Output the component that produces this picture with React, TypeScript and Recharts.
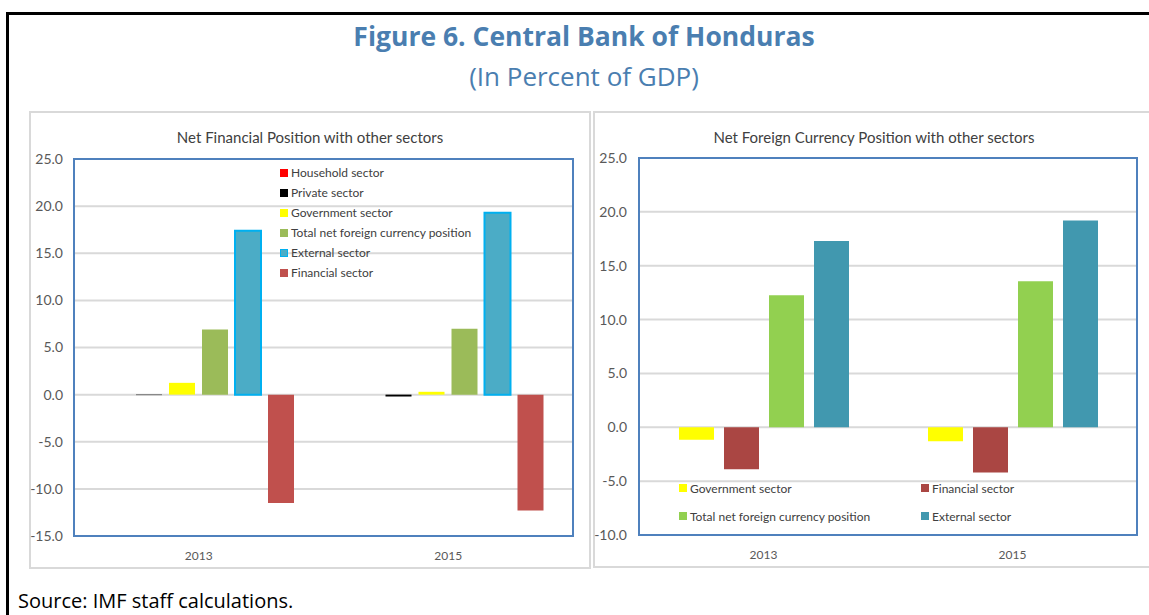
import { BarChart, Bar, XAxis, YAxis, CartesianGrid, ReferenceArea, Legend } from "recharts";

const years = ["2013", "2015"];

// Net financial position with other sectors (left panel)
const household = [0, 0];
const privateSector = [-0.05, -0.2];
const government = [1.25, 0.3];
const totalNetFx = [6.9, 7.0];
const external = [17.4, 19.3];
const financial = [-11.5, -12.3];

// Net foreign currency position with other sectors (right panel)
const fxGovernment = [-1.15, -1.3];
const fxFinancial = [-3.9, -4.2];
const fxTotalNet = [12.25, 13.55];
const fxExternal = [17.3, 19.2];

const leftTicks = [-15, -10, -5, 0, 5, 10, 15, 20, 25];
const rightTicks = [-10, -5, 0, 5, 10, 15, 20, 25];

const leftSeries = [
  { key: "household", name: "Household sector", fill: "#ff0000", stroke: "none" },
  { key: "private", name: "Private sector", fill: "#000000", stroke: "none" },
  { key: "government", name: "Government sector", fill: "#ffff00", stroke: "none" },
  { key: "total", name: "Total net foreign currency position", fill: "#9bbb59", stroke: "none" },
  { key: "external", name: "External sector", fill: "#4bacc6", stroke: "#00b0f0" },
  { key: "financial", name: "Financial sector", fill: "#c0504d", stroke: "none" },
];

const rightSeries = [
  { key: "government", name: "Government sector", fill: "#ffff00" },
  { key: "financial", name: "Financial sector", fill: "#aa4643" },
  { key: "total", name: "Total net foreign currency position", fill: "#92d050" },
  { key: "external", name: "External sector", fill: "#4198af" },
];

const leftData = years.map((year, i) => ({
  year,
  household: household[i],
  private: privateSector[i],
  government: government[i],
  total: totalNetFx[i],
  external: external[i],
  financial: financial[i],
}));

const rightData = years.map((year, i) => ({
  year,
  government: fxGovernment[i],
  financial: fxFinancial[i],
  total: fxTotalNet[i],
  external: fxExternal[i],
}));

const FONT = "Lato, 'Open Sans', sans-serif";
const TEXT = "#595959";
const tickStyle = { fontSize: 14, fill: TEXT, fontFamily: FONT };

function LeftLegend() {
  return (
    <div style={{ fontFamily: FONT, fontSize: 12, color: "#404040", lineHeight: "20px" }}>
      {leftSeries.map((s) => (
        <div key={s.key} style={{ display: "flex", alignItems: "center", whiteSpace: "nowrap" }}>
          <span
            style={{
              display: "inline-block",
              width: 8,
              height: 8,
              marginRight: 3,
              background: s.fill,
              boxSizing: "border-box",
              border: s.stroke !== "none" ? `1.5px solid ${s.stroke}` : "none",
            }}
          />
          {s.name}
        </div>
      ))}
    </div>
  );
}

function RightLegend() {
  return (
    <div
      style={{
        fontFamily: FONT,
        fontSize: 12,
        color: "#404040",
        display: "grid",
        gridTemplateColumns: "242px 200px",
        gridAutoRows: "28px",
        alignItems: "center",
      }}
    >
      {rightSeries.map((s) => (
        <div key={s.key} style={{ display: "flex", alignItems: "center", whiteSpace: "nowrap" }}>
          <span style={{ display: "inline-block", width: 8, height: 8, marginRight: 3, background: s.fill }} />
          {s.name}
        </div>
      ))}
    </div>
  );
}

const panelBorder: React.CSSProperties = {
  position: "absolute",
  border: "2px solid #d9d9d9",
  boxSizing: "border-box",
};

const panelTitle: React.CSSProperties = {
  position: "absolute",
  fontFamily: FONT,
  fontSize: 15,
  color: "#404040",
  textAlign: "center",
  whiteSpace: "nowrap",
};

export default function App() {
  return (
    <div
      style={{
        position: "absolute",
        left: 0,
        top: 0,
        width: 1149,
        height: 615,
        overflow: "hidden",
        background: "#fff",
        fontFamily: FONT,
      }}
    >
      {/* outer figure frame */}
      <div
        style={{
          position: "absolute",
          left: 6,
          top: 12,
          width: 1400,
          height: 800,
          borderLeft: "3px solid #000",
          borderTop: "3px solid #000",
        }}
      />

      <div
        style={{
          position: "absolute",
          top: 18,
          left: 0,
          width: 1168,
          textAlign: "center",
          fontFamily: "'Open Sans', sans-serif",
          fontWeight: 700,
          fontSize: 26.5,
          color: "#4a7eb0",
        }}
      >
        Figure 6. Central Bank of Honduras
      </div>
      <div
        style={{
          position: "absolute",
          top: 58,
          left: 0,
          width: 1168,
          textAlign: "center",
          fontFamily: "'Open Sans', sans-serif",
          fontSize: 26,
          color: "#4a7eb0",
        }}
      >
        (In Percent of GDP)
      </div>

      {/* left panel */}
      <div style={{ ...panelBorder, left: 29, top: 111, width: 562, height: 458 }} />
      <div style={{ ...panelTitle, left: 29, top: 128, width: 562 }}>
        Net Financial Position with other sectors
      </div>
      <div style={{ position: "absolute", left: 29, top: 111 }}>
        <BarChart
          width={560}
          height={457}
          data={leftData}
          margin={{ top: 48, right: 16, bottom: 0, left: 0 }}
          barSize={26}
          barGap={7}
        >
          <CartesianGrid vertical={false} stroke="#d9d9d9" strokeWidth={2} />
          <XAxis
            dataKey="year"
            axisLine={false}
            tickLine={false}
            tickMargin={9}
            height={32}
            interval={0}
            tick={{ ...tickStyle, fontSize: 12 }}
          />
          <YAxis
            type="number"
            domain={[-15, 25]}
            ticks={leftTicks}
            tickFormatter={(v: number) => v.toFixed(1)}
            width={45}
            tickMargin={5}
            axisLine={false}
            tickLine={false}
            tick={tickStyle}
          />
          {leftSeries.map((s) => (
            <Bar
              key={s.key}
              dataKey={s.key}
              name={s.name}
              fill={s.fill}
              stroke={s.stroke}
              strokeWidth={s.stroke === "none" ? 0 : 2}
              isAnimationActive={false}
            />
          ))}
          <ReferenceArea y1={-15} y2={25} fill="none" stroke="#4f81bd" strokeWidth={2} ifOverflow="visible" />
          <Legend
            layout="vertical"
            align="center"
            verticalAlign="middle"
            wrapperStyle={{ left: 251, top: 52, width: 220 }}
            content={() => <LeftLegend />}
          />
        </BarChart>
      </div>

      {/* right panel */}
      <div style={{ ...panelBorder, left: 593, top: 111, width: 700, height: 457 }} />
      <div style={{ ...panelTitle, left: 593, top: 128, width: 562 }}>
        Net Foreign Currency Position with other sectors
      </div>
      <div style={{ position: "absolute", left: 593, top: 111 }}>
        <BarChart
          width={556}
          height={456}
          data={rightData}
          margin={{ top: 47, right: 12, bottom: 0, left: 0 }}
          barSize={35}
          barGap={10}
        >
          <CartesianGrid vertical={false} stroke="#d9d9d9" strokeWidth={2} />
          <XAxis
            dataKey="year"
            axisLine={false}
            tickLine={false}
            tickMargin={9}
            height={32}
            interval={0}
            tick={{ ...tickStyle, fontSize: 12 }}
          />
          <YAxis
            type="number"
            domain={[-10, 25]}
            ticks={rightTicks}
            tickFormatter={(v: number) => v.toFixed(1)}
            width={46}
            tickMargin={6}
            axisLine={false}
            tickLine={false}
            tick={tickStyle}
          />
          {rightSeries.map((s) => (
            <Bar key={s.key} dataKey={s.key} name={s.name} fill={s.fill} isAnimationActive={false} />
          ))}
          <ReferenceArea y1={-10} y2={25} fill="none" stroke="#4f81bd" strokeWidth={2} ifOverflow="visible" />
          <Legend
            layout="vertical"
            align="center"
            verticalAlign="middle"
            wrapperStyle={{ left: 86, top: 363, width: 450 }}
            content={() => <RightLegend />}
          />
        </BarChart>
      </div>

      <div
        style={{
          position: "absolute",
          left: 18,
          top: 590,
          lineHeight: "22px",
          fontFamily: "'Open Sans', sans-serif",
          fontSize: 20,
          color: "#000",
          whiteSpace: "nowrap",
        }}
      >
        Source: IMF staff calculations.
      </div>
    </div>
  );
}
